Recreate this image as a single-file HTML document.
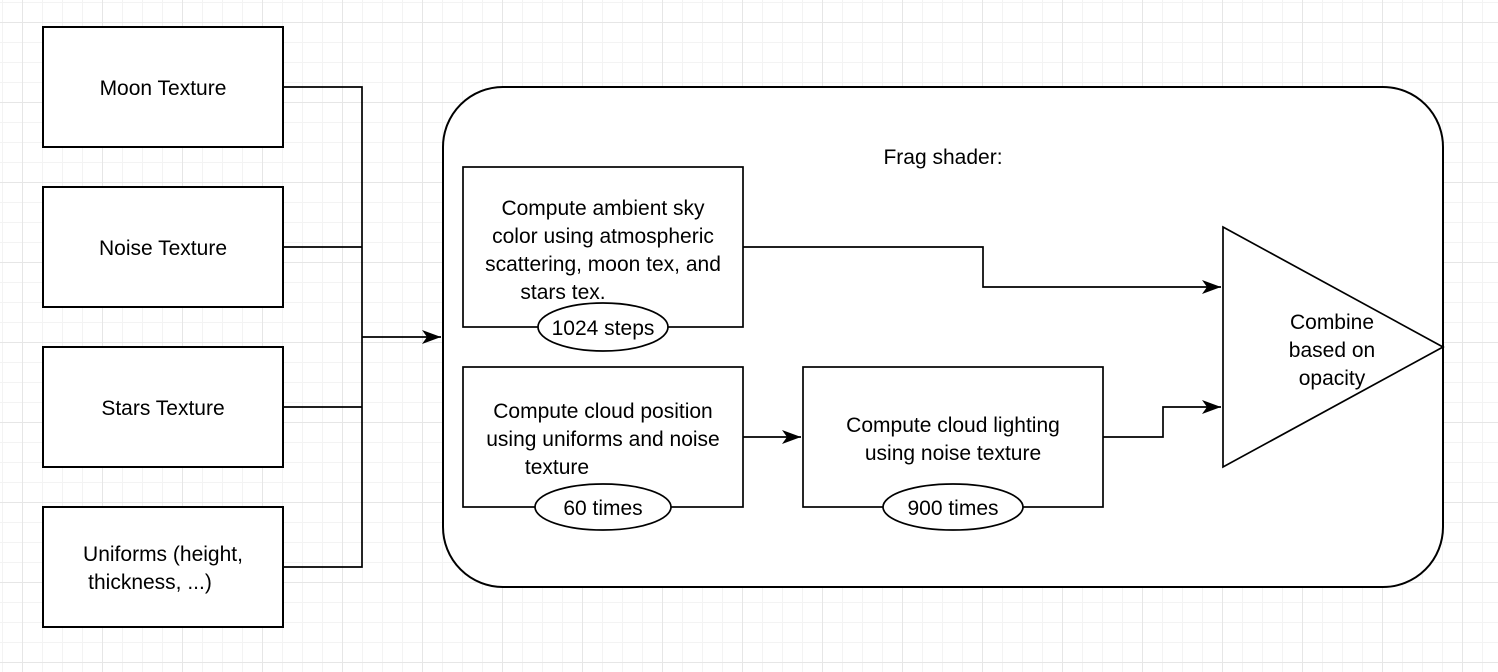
<!DOCTYPE html>
<html><head><style>
html,body{margin:0;padding:0;}
body{width:1498px;height:672px;overflow:hidden;background-color:#fff;
background-image:linear-gradient(#e6e6e6 1px,transparent 1px),linear-gradient(90deg,#e6e6e6 1px,transparent 1px),linear-gradient(#f3f3f3 1px,transparent 1px),linear-gradient(90deg,#f3f3f3 1px,transparent 1px);
background-size:80px 80px,80px 80px,20px 20px,20px 20px;background-position:22px 22px,22px 22px,2px 2px,2px 2px;}
svg{position:absolute;left:0;top:0;}
text{font-family:"Liberation Sans",sans-serif;font-size:21px;fill:#000;}
</style></head><body>
<svg width="1498" height="672" viewBox="0 0 1498 672">
<defs>
<marker id="b" markerWidth="20" markerHeight="14" refX="19" refY="7" orient="auto" markerUnits="userSpaceOnUse"><path d="M0,0 L19,7 L0,14 L5,7 z" fill="#000"/></marker></defs>
<g fill="#fff" stroke="#000" stroke-width="2">
<rect x="43" y="27" width="240" height="120"/>
<rect x="43" y="187" width="240" height="120"/>
<rect x="43" y="347" width="240" height="120"/>
<rect x="43" y="507" width="240" height="120"/>
<rect x="443" y="87" width="1000" height="500" rx="60"/>
</g>
<g fill="none" stroke="#000" stroke-width="1.7">
<path d="M283,87H362V567H283M283,247H362M283,407H362"/>
<path d="M362,337H441" marker-end="url(#b)"/>
<path d="M743,247H983V287H1221" marker-end="url(#b)"/>
<path d="M743,437H801" marker-end="url(#b)"/>
<path d="M1103,437H1163V407H1221" marker-end="url(#b)"/>
</g>
<g fill="#fff" stroke="#000" stroke-width="1.7">
<rect x="463" y="167" width="280" height="160"/>
<rect x="463" y="367" width="280" height="140"/>
<rect x="803" y="367" width="300" height="140"/>
<polygon points="1223,227 1443,347 1223,467"/>
<ellipse cx="603" cy="327" rx="65" ry="24"/>
<ellipse cx="603" cy="507" rx="68" ry="23"/>
<ellipse cx="953" cy="507" rx="70" ry="23"/>
</g>
<g text-anchor="middle">
<text x="163" y="95">Moon Texture</text>
<text x="163" y="255">Noise Texture</text>
<text x="163" y="415">Stars Texture</text>
<text x="163" y="561">Uniforms (height,</text>
<text x="150" y="589">thickness, ...)</text>
<text x="943" y="164">Frag shader:</text>
<text x="603" y="215">Compute ambient sky</text>
<text x="603" y="243">color using atmospheric</text>
<text x="603" y="271">scattering, moon tex, and</text>
<text x="563" y="299">stars tex.</text>
<text x="603" y="335">1024 steps</text>
<text x="603" y="418">Compute cloud position</text>
<text x="603" y="446">using uniforms and noise</text>
<text x="557" y="474">texture</text>
<text x="603" y="515">60 times</text>
<text x="953" y="432">Compute cloud lighting</text>
<text x="953" y="460">using noise texture</text>
<text x="953" y="515">900 times</text>
<text x="1332" y="329">Combine</text>
<text x="1332" y="357">based on</text>
<text x="1332" y="385">opacity</text>
</g>
</svg>
</body></html>
